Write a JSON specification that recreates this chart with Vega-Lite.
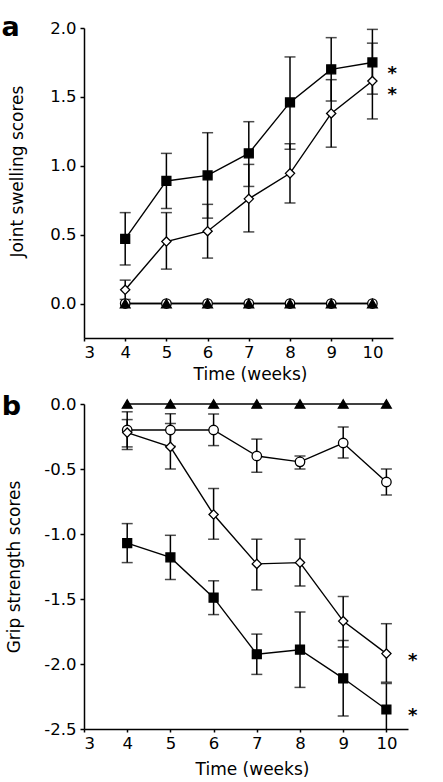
{
  "$schema": "https://vega.github.io/schema/vega-lite/v6.json",
  "padding": {"left": 1, "top": 13, "right": 0, "bottom": 0},
  "spacing": 11,
  "background": "white",
  "config": {
    "view": {"stroke": null},
    "font": "DejaVu Sans",
    "axis": {"domainColor": "black", "domainWidth": 1.5, "tickColor": "black", "tickWidth": 1.5, "labelColor": "black", "labelFontSize": 16.5, "titleColor": "black", "titleFontSize": 17, "titleFontWeight": "normal", "grid": false, "labelFont": "DejaVu Sans", "titleFont": "DejaVu Sans"}
  },
  "datasets": {
    "d": [
      {"p": "a", "g": "circ", "week": 4, "mean": 0}, {"p": "a", "g": "circ", "week": 5, "mean": 0}, {"p": "a", "g": "circ", "week": 6, "mean": 0}, {"p": "a", "g": "circ", "week": 7, "mean": 0}, {"p": "a", "g": "circ", "week": 8, "mean": 0}, {"p": "a", "g": "circ", "week": 9, "mean": 0}, {"p": "a", "g": "circ", "week": 10, "mean": 0},
      {"p": "a", "g": "tri", "week": 4, "mean": 0}, {"p": "a", "g": "tri", "week": 5, "mean": 0}, {"p": "a", "g": "tri", "week": 6, "mean": 0}, {"p": "a", "g": "tri", "week": 7, "mean": 0}, {"p": "a", "g": "tri", "week": 8, "mean": 0}, {"p": "a", "g": "tri", "week": 9, "mean": 0}, {"p": "a", "g": "tri", "week": 10, "mean": 0},
      {"p": "a", "g": "dia", "week": 4, "mean": 0.10, "lo": 0.03, "hi": 0.17},
      {"p": "a", "g": "dia", "week": 5, "mean": 0.45, "lo": 0.25, "hi": 0.66},
      {"p": "a", "g": "dia", "week": 6, "mean": 0.525, "lo": 0.33, "hi": 0.72},
      {"p": "a", "g": "dia", "week": 7, "mean": 0.76, "lo": 0.52, "hi": 1.01},
      {"p": "a", "g": "dia", "week": 8, "mean": 0.945, "lo": 0.73, "hi": 1.16},
      {"p": "a", "g": "dia", "week": 9, "mean": 1.38, "lo": 1.135, "hi": 1.625},
      {"p": "a", "g": "dia", "week": 10, "mean": 1.615, "lo": 1.34, "hi": 1.89},
      {"p": "a", "g": "sq", "week": 4, "mean": 0.47, "lo": 0.28, "hi": 0.66},
      {"p": "a", "g": "sq", "week": 5, "mean": 0.89, "lo": 0.69, "hi": 1.09},
      {"p": "a", "g": "sq", "week": 6, "mean": 0.93, "lo": 0.62, "hi": 1.24},
      {"p": "a", "g": "sq", "week": 7, "mean": 1.09, "lo": 0.85, "hi": 1.32},
      {"p": "a", "g": "sq", "week": 8, "mean": 1.46, "lo": 1.12, "hi": 1.79},
      {"p": "a", "g": "sq", "week": 9, "mean": 1.70, "lo": 1.47, "hi": 1.93},
      {"p": "a", "g": "sq", "week": 10, "mean": 1.75, "lo": 1.52, "hi": 1.99},
      {"p": "b", "g": "tri", "week": 4, "mean": 0}, {"p": "b", "g": "tri", "week": 5, "mean": 0}, {"p": "b", "g": "tri", "week": 6, "mean": 0}, {"p": "b", "g": "tri", "week": 7, "mean": 0}, {"p": "b", "g": "tri", "week": 8, "mean": 0}, {"p": "b", "g": "tri", "week": 9, "mean": 0}, {"p": "b", "g": "tri", "week": 10, "mean": 0},
      {"p": "b", "g": "circ", "week": 4, "mean": -0.20, "lo": -0.35, "hi": -0.06},
      {"p": "b", "g": "circ", "week": 5, "mean": -0.20, "lo": -0.325, "hi": -0.075},
      {"p": "b", "g": "circ", "week": 6, "mean": -0.20, "lo": -0.32, "hi": -0.077},
      {"p": "b", "g": "circ", "week": 7, "mean": -0.40, "lo": -0.525, "hi": -0.27},
      {"p": "b", "g": "circ", "week": 8, "mean": -0.445, "lo": -0.50, "hi": -0.40},
      {"p": "b", "g": "circ", "week": 9, "mean": -0.30, "lo": -0.416, "hi": -0.177},
      {"p": "b", "g": "circ", "week": 10, "mean": -0.60, "lo": -0.70, "hi": -0.50},
      {"p": "b", "g": "dia", "week": 4, "mean": -0.22, "lo": -0.33, "hi": -0.12},
      {"p": "b", "g": "dia", "week": 5, "mean": -0.33, "lo": -0.50, "hi": -0.15},
      {"p": "b", "g": "dia", "week": 6, "mean": -0.85, "lo": -1.04, "hi": -0.65},
      {"p": "b", "g": "dia", "week": 7, "mean": -1.23, "lo": -1.43, "hi": -1.04},
      {"p": "b", "g": "dia", "week": 8, "mean": -1.22, "lo": -1.40, "hi": -1.04},
      {"p": "b", "g": "dia", "week": 9, "mean": -1.67, "lo": -1.87, "hi": -1.48},
      {"p": "b", "g": "dia", "week": 10, "mean": -1.92, "lo": -2.14, "hi": -1.69},
      {"p": "b", "g": "sq", "week": 4, "mean": -1.07, "lo": -1.22, "hi": -0.92},
      {"p": "b", "g": "sq", "week": 5, "mean": -1.18, "lo": -1.35, "hi": -1.01},
      {"p": "b", "g": "sq", "week": 6, "mean": -1.49, "lo": -1.62, "hi": -1.36},
      {"p": "b", "g": "sq", "week": 7, "mean": -1.925, "lo": -2.08, "hi": -1.77},
      {"p": "b", "g": "sq", "week": 8, "mean": -1.89, "lo": -2.18, "hi": -1.60},
      {"p": "b", "g": "sq", "week": 9, "mean": -2.11, "lo": -2.40, "hi": -1.82},
      {"p": "b", "g": "sq", "week": 10, "mean": -2.35, "lo": -2.5, "hi": -2.15}
    ],
    "stars": [
      {"p": "a", "week": 10.48, "mean": 1.70},
      {"p": "a", "week": 10.48, "mean": 1.55},
      {"p": "b", "week": 10.61, "mean": -1.943},
      {"p": "b", "week": 10.61, "mean": -2.367}
    ],
    "panels": [
      {"p": "a", "t": "a", "week": 1.0, "mean": 1.942},
      {"p": "b", "t": "b", "week": 1.095, "mean": -0.085}
    ]
  },
  "vconcat": [
    {
      "width": 309,
      "height": 310,
      "encoding": {
        "x": {"field": "week", "type": "quantitative", "scale": {"domain": [3, 10.5], "nice": false, "zero": false}, "axis": {"values": [3, 4, 5, 6, 7, 8, 9, 10], "title": "Time (weeks)", "tickSize": 3, "labelPadding": 3.5, "titlePadding": 5, "titleX": 166}}
      },
      "layer": [
        {
          "data": {"name": "d"},
          "transform": [{"filter": "datum.p === 'a'"}],
          "mark": {"type": "line", "color": "black", "strokeWidth": 1.4},
          "encoding": {
            "y": {"field": "mean", "type": "quantitative", "scale": {"domain": [-0.25, 2], "nice": false, "zero": false}, "axis": {"values": [0, 0.5, 1, 1.5, 2], "format": ".1f", "title": "Joint swelling scores", "tickSize": 4, "labelPadding": 4, "titlePadding": 23, "titleY": 143}},
            "detail": {"field": "g"}
          }
        },
        {
          "data": {"name": "d"},
          "transform": [{"filter": "datum.p === 'a' && isValid(datum.lo)"}],
          "mark": {"type": "rule", "color": "black", "strokeWidth": 1.5},
          "encoding": {
            "y": {"field": "lo", "type": "quantitative", "scale": {"domain": [-0.25, 2], "nice": false, "zero": false}},
            "y2": {"field": "hi"}
          }
        },
        {
          "data": {"name": "d"},
          "transform": [{"filter": "datum.p === 'a' && isValid(datum.lo)"}],
          "mark": {"type": "tick", "orient": "horizontal", "color": "black", "size": 11, "thickness": 1.5},
          "encoding": {
            "y": {"field": "lo", "type": "quantitative", "scale": {"domain": [-0.25, 2], "nice": false, "zero": false}}
          }
        },
        {
          "data": {"name": "d"},
          "transform": [{"filter": "datum.p === 'a' && isValid(datum.hi)"}],
          "mark": {"type": "tick", "orient": "horizontal", "color": "black", "size": 11, "thickness": 1.5},
          "encoding": {
            "y": {"field": "hi", "type": "quantitative", "scale": {"domain": [-0.25, 2], "nice": false, "zero": false}}
          }
        },
        {
          "data": {"name": "d"},
          "transform": [{"filter": "datum.p === 'a'"}],
          "mark": {"type": "point", "stroke": "black", "strokeWidth": 1.3, "opacity": 1},
          "encoding": {
            "y": {"field": "mean", "type": "quantitative", "scale": {"domain": [-0.25, 2], "nice": false, "zero": false}},
            "shape": {"field": "g", "type": "nominal", "scale": {"domain": ["sq", "dia", "circ", "tri"], "range": ["square", "diamond", "circle", "triangle-up"]}, "legend": null},
            "fill": {"field": "g", "type": "nominal", "scale": {"domain": ["sq", "dia", "circ", "tri"], "range": ["black", "white", "white", "black"]}, "legend": null},
            "size": {"field": "g", "type": "nominal", "scale": {"domain": ["sq", "dia", "circ", "tri"], "range": [80, 95, 85, 85]}, "legend": null}
          }
        },
        {
          "data": {"name": "stars"},
          "transform": [{"filter": "datum.p === 'a'"}],
          "mark": {"type": "text", "text": "*", "fontSize": 18, "fontWeight": "bold", "baseline": "middle", "align": "center", "dy": 4.5, "color": "black"},
          "encoding": {
            "y": {"field": "mean", "type": "quantitative", "scale": {"domain": [-0.25, 2], "nice": false, "zero": false}}
          }
        },
        {
          "data": {"name": "panels"},
          "transform": [{"filter": "datum.p === 'a'"}],
          "mark": {"type": "text", "fontSize": 27, "fontWeight": "bold", "baseline": "alphabetic", "align": "left", "color": "black"},
          "encoding": {
            "y": {"field": "mean", "type": "quantitative", "scale": {"domain": [-0.25, 2], "nice": false, "zero": false}},
            "text": {"field": "t", "type": "nominal"}
          }
        }
      ]
    },
    {
      "width": 324,
      "height": 325,
      "encoding": {
        "x": {"field": "week", "type": "quantitative", "scale": {"domain": [3, 10.5], "nice": false, "zero": false}, "axis": {"values": [3, 4, 5, 6, 7, 8, 9, 10], "title": "Time (weeks)", "tickSize": 3, "labelPadding": 3.5, "titlePadding": 9, "titleX": 168}}
      },
      "layer": [
        {
          "data": {"name": "d"},
          "transform": [{"filter": "datum.p === 'b'"}],
          "mark": {"type": "line", "color": "black", "strokeWidth": 1.4},
          "encoding": {
            "y": {"field": "mean", "type": "quantitative", "scale": {"domain": [-2.5, 0], "nice": false, "zero": false}, "axis": {"values": [-2.5, -2, -1.5, -1, -0.5, 0], "format": ".1f", "labelExpr": "replace(datum.label, '\u2212', '-')", "title": "Grip strength scores", "tickSize": 4, "labelPadding": 4, "titlePadding": 20}},
            "detail": {"field": "g"}
          }
        },
        {
          "data": {"name": "d"},
          "transform": [{"filter": "datum.p === 'b' && isValid(datum.lo)"}],
          "mark": {"type": "rule", "color": "black", "strokeWidth": 1.5},
          "encoding": {
            "y": {"field": "lo", "type": "quantitative", "scale": {"domain": [-2.5, 0], "nice": false, "zero": false}},
            "y2": {"field": "hi"}
          }
        },
        {
          "data": {"name": "d"},
          "transform": [{"filter": "datum.p === 'b' && isValid(datum.lo) && datum.lo > -2.5"}],
          "mark": {"type": "tick", "orient": "horizontal", "color": "black", "size": 11, "thickness": 1.5},
          "encoding": {
            "y": {"field": "lo", "type": "quantitative", "scale": {"domain": [-2.5, 0], "nice": false, "zero": false}}
          }
        },
        {
          "data": {"name": "d"},
          "transform": [{"filter": "datum.p === 'b' && isValid(datum.hi)"}],
          "mark": {"type": "tick", "orient": "horizontal", "color": "black", "size": 11, "thickness": 1.5},
          "encoding": {
            "y": {"field": "hi", "type": "quantitative", "scale": {"domain": [-2.5, 0], "nice": false, "zero": false}}
          }
        },
        {
          "data": {"name": "d"},
          "transform": [{"filter": "datum.p === 'b'"}],
          "mark": {"type": "point", "stroke": "black", "strokeWidth": 1.3, "opacity": 1},
          "encoding": {
            "y": {"field": "mean", "type": "quantitative", "scale": {"domain": [-2.5, 0], "nice": false, "zero": false}},
            "shape": {"field": "g", "type": "nominal", "scale": {"domain": ["sq", "dia", "circ", "tri"], "range": ["square", "diamond", "circle", "triangle-up"]}, "legend": null},
            "fill": {"field": "g", "type": "nominal", "scale": {"domain": ["sq", "dia", "circ", "tri"], "range": ["black", "white", "white", "black"]}, "legend": null},
            "size": {"field": "g", "type": "nominal", "scale": {"domain": ["sq", "dia", "circ", "tri"], "range": [64, 100, 100, 50]}, "legend": null}
          }
        },
        {
          "data": {"name": "stars"},
          "transform": [{"filter": "datum.p === 'b'"}],
          "mark": {"type": "text", "text": "*", "fontSize": 18, "fontWeight": "bold", "baseline": "middle", "align": "center", "dy": 4.5, "color": "black"},
          "encoding": {
            "y": {"field": "mean", "type": "quantitative", "scale": {"domain": [-2.5, 0], "nice": false, "zero": false}}
          }
        },
        {
          "data": {"name": "panels"},
          "transform": [{"filter": "datum.p === 'b'"}],
          "mark": {"type": "text", "fontSize": 27, "fontWeight": "bold", "baseline": "alphabetic", "align": "left", "color": "black"},
          "encoding": {
            "y": {"field": "mean", "type": "quantitative", "scale": {"domain": [-2.5, 0], "nice": false, "zero": false}},
            "text": {"field": "t", "type": "nominal"}
          }
        }
      ]
    }
  ]
}
